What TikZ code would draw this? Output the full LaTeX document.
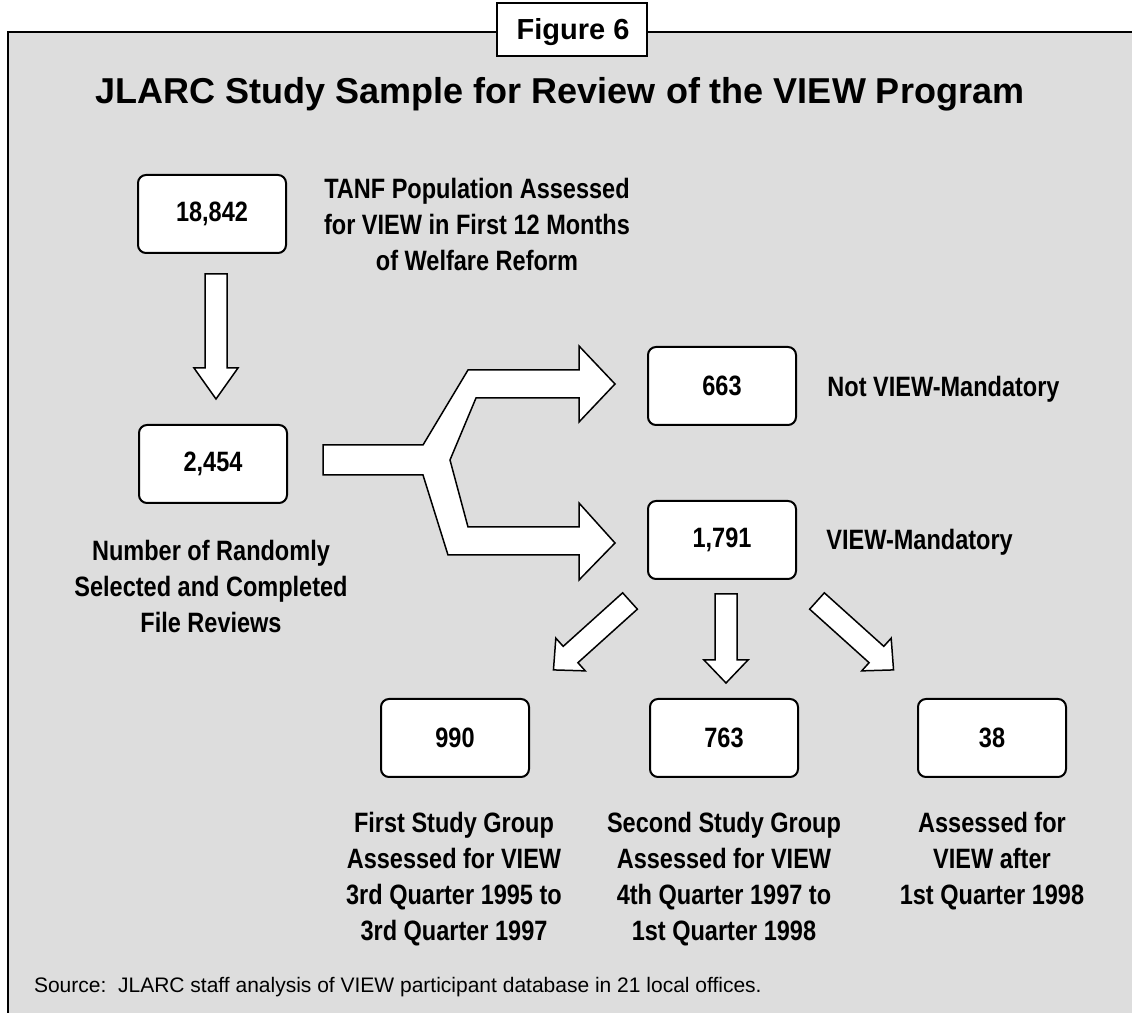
\documentclass[tikz,border=0pt]{standalone}
\usepackage{fontspec}
\setmainfont{Liberation Sans}
\newfontfamily\narrowfont[FakeStretch=0.84]{Liberation Sans}
\usetikzlibrary{calc}
\definecolor{panelgray}{RGB}{221,221,221}

\tikzset{
  numbox/.style={draw, fill=white, line width=1pt, rounded corners=4pt,
    minimum width=74pt, minimum height=39pt, inner sep=0pt,
    font=\narrowfont\bfseries\fontsize{14pt}{18pt}\selectfont},
  caption/.style={align=center, inner sep=0pt,
    font=\narrowfont\bfseries\fontsize{14pt}{18pt}\selectfont},
  blockarrow/.style={draw, fill=white, line width=0.75pt},
  pics/downarrow/.style args={#1/#2}{code={
    \draw[blockarrow] (-11,0) -- (11,0) -- (11,{#2-#1}) -- (22,{#2-#1})
      -- (0,-#1) -- (-22,{#2-#1}) -- (-11,{#2-#1}) -- cycle;
  }}
}

\begin{document}
\begin{tikzpicture}[x=0.5pt, y=0.5pt]
    \useasboundingbox (0,0) rectangle (1132,1013);
    \clip (0,0) rectangle (1132,1013);

    % panel and heading
    \draw[fill=panelgray, line width=0.6pt] (8,-10) rectangle (1140,981);
    \node[draw, fill=white, line width=0.6pt, minimum width=75pt,
      minimum height=26.5pt, inner sep=0pt] (figbox) at (572,983.5) {};
    \node[anchor=base, font=\bfseries\fontsize{14.5pt}{17pt}\selectfont]
      (figlabel) at (573,973) {Figure 6};
    \node[anchor=base, font=\bfseries\fontsize{18pt}{22pt}\selectfont]
      (title) at (560,909) {JLARC Study Sample for Review of the VIEW Program};

    % counts
    \node[numbox] (n18842) at (212,799) {18,842};
    \node[numbox] (n2454) at (213,549) {2,454};
    \node[numbox] (n663) at (722,627) {663};
    \node[numbox] (n1791) at (722,473) {1,791};
    \node[numbox] (n990) at (455,275) {990};
    \node[numbox] (n763) at (724,275) {763};
    \node[numbox] (n38) at (992,275) {38};

    % captions
    \node[caption, anchor=north] (tanf) at (477,835)
      {TANF Population Assessed\\for VIEW in First 12 Months\\of Welfare Reform};
    \node[caption, anchor=north] (sample) at (211,473)
      {Number of Randomly\\Selected and Completed\\File Reviews};
    \node[caption, anchor=base west] (notmand) at (827,616) {Not VIEW-Mandatory};
    \node[caption, anchor=base west] (mand) at (826,463) {VIEW-Mandatory};
    \node[caption, anchor=north] (first) at (454,201)
      {First Study Group\\Assessed for VIEW\\3rd Quarter 1995 to\\3rd Quarter 1997};
    \node[caption, anchor=north] (second) at (724,201)
      {Second Study Group\\Assessed for VIEW\\4th Quarter 1997 to\\1st Quarter 1998};
    \node[caption, anchor=north] (after) at (992,201)
      {Assessed for\\VIEW after\\1st Quarter 1998};

    % arrows
    \pic at ($(n18842.south)+(4,-20)$) {downarrow=125/31};
    \draw[blockarrow] (323,568) -- (423,568) -- (468,643) -- (579,643)
      -- (579,667) -- (615,629) -- (579,591) -- (579,615) -- (476,615)
      -- (450,553) -- (468,486) -- (579,486) -- (579,510) -- (615,470)
      -- (579,433) -- (579,458) -- (448,458) -- (423,538) -- (323,538) -- cycle;
    \pic at ($(n1791.south)+(4,-14)$) {downarrow=89/23};
    \pic[rotate=-48] at (630,412) {downarrow=103/23};
    \pic[rotate=48] at (817,412) {downarrow=103/23};

    \node[anchor=base west, font=\fontsize{10.5pt}{12pt}\selectfont] (source)
      at (27,20) {Source:\ \ JLARC staff analysis of VIEW participant database in 21 local offices.};

  \end{tikzpicture}
\end{document}
